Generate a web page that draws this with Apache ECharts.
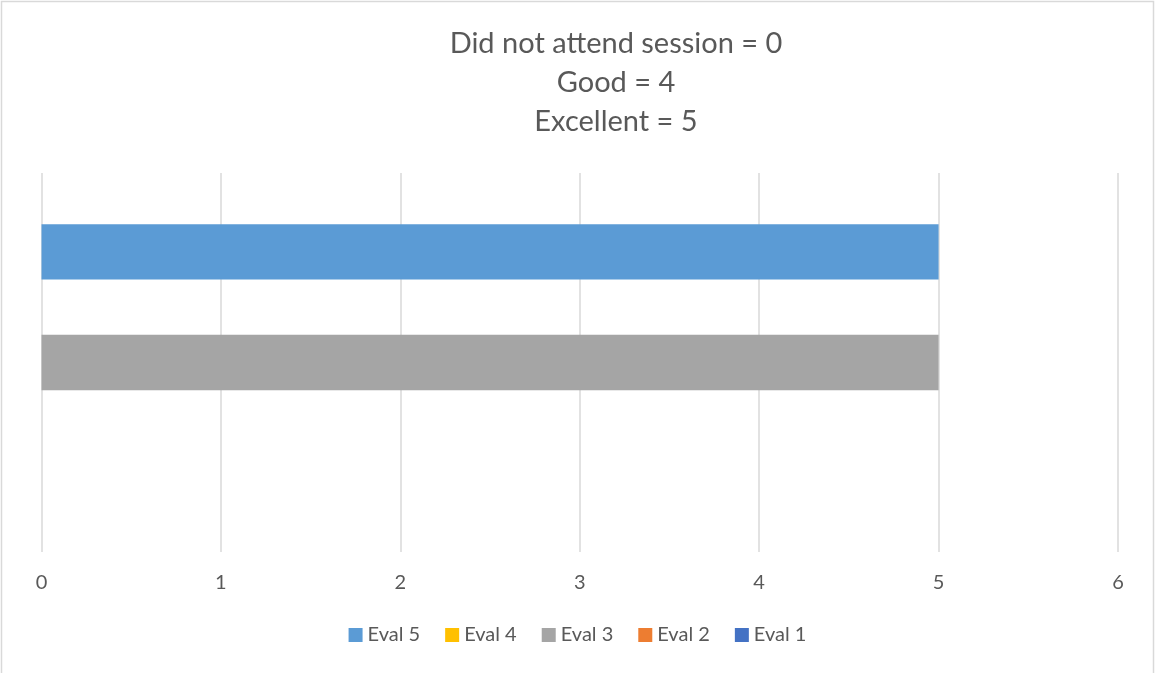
<!DOCTYPE html>
<html>
<head>
<meta charset="utf-8">
<script src="https://cdn.jsdelivr.net/npm/echarts@6/dist/echarts.min.js"></script>
<style>
html,body{margin:0;padding:0;background:#fff;}
#chart{width:1155px;height:673px;}
</style>
</head>
<body>
<div id="chart"></div>
<script>
var categories = ['Session'];
var seriesNames = ['Eval 5', 'Eval 4', 'Eval 3', 'Eval 2', 'Eval 1'];
var eval5 = [5];
var eval4 = [0];
var eval3 = [5];
var eval2 = [0];
var eval1 = [0];
var legendOrder = ['Eval 5', 'Eval 4', 'Eval 3', 'Eval 2', 'Eval 1'];
var titleLines = ['Did not attend session = 0', 'Good = 4', 'Excellent = 5'];
var colors = ['#5B9BD5', '#FFC000', '#A5A5A5', '#ED7D31', '#4472C4'];
var values = [eval5, eval4, eval3, eval2, eval1];

var FONT = 'Lato';
var chart = echarts.init(document.getElementById('chart'));
var series = seriesNames.map(function (n, i) {
  return {
    name: n,
    type: 'bar',
    data: values[i],
    barGap: '0%',
    barCategoryGap: '27%',
    itemStyle: { color: colors[i] },
    emphasis: { disabled: true }
  };
});
chart.setOption({
  animation: false,
  textStyle: { fontFamily: FONT },
  title: {
    text: titleLines.join('\n'),
    left: 611,
    top: 19.5,
    textAlign: 'center',
    textStyle: { fontFamily: FONT, fontSize: 29, fontWeight: 'normal', color: '#595959', lineHeight: 39 }
  },
  legend: {
    data: legendOrder,
    bottom: 23,
    left: 'center',
    itemWidth: 14,
    itemHeight: 14,
    itemGap: 25,
    icon: 'rect',
    textStyle: { fontFamily: FONT, fontSize: 20, color: '#595959' }
  },
  grid: { left: 41.5, right: 37, top: 173, bottom: 121, containLabel: false },
  xAxis: {
    type: 'value',
    min: 0,
    max: 6,
    interval: 1,
    axisLine: { show: false },
    axisTick: { show: false },
    axisLabel: { fontFamily: FONT, fontSize: 20, color: '#595959', margin: 21 },
    splitLine: { show: true, lineStyle: { color: '#D9D9D9', width: 1.5 } }
  },
  yAxis: {
    type: 'category',
    data: categories,
    axisLine: { show: false },
    axisTick: { show: false },
    axisLabel: { show: false },
    splitLine: { show: false }
  },
  graphic: [{
    type: 'rect',
    shape: { x: 1.5, y: 1.5, width: 1152, height: 690 },
    style: { fill: 'none', stroke: '#D9D9D9', lineWidth: 1.5 },
    silent: true
  }],
  series: series
});
</script>
</body>
</html>
